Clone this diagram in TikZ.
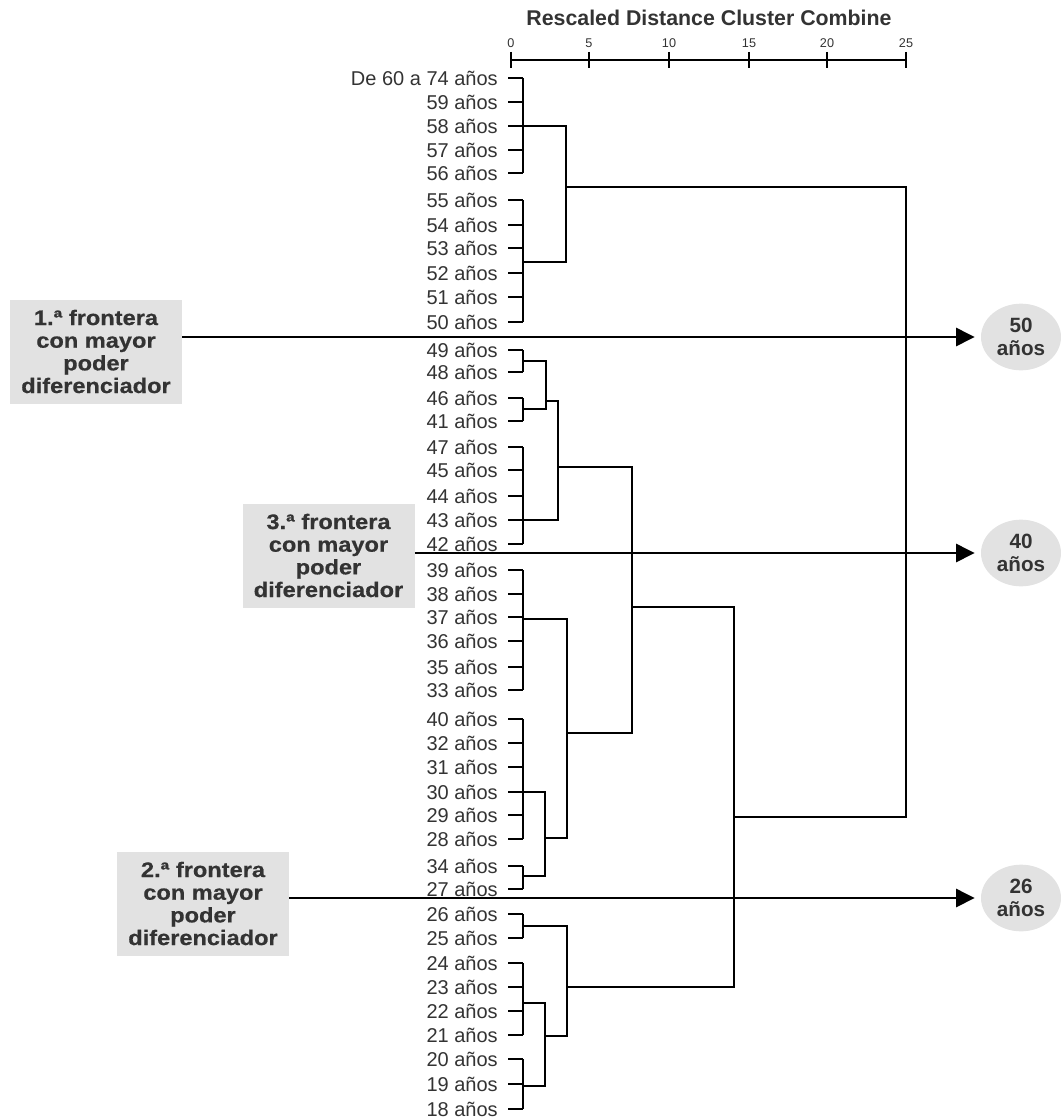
\documentclass[tikz,border=0pt]{standalone}
\usepackage{fontspec}
\setmainfont{Liberation Sans}
\newfontfamily\boxfont[FakeStretch=1.12,FakeBold=0.6]{Liberation Sans}
\usetikzlibrary{arrows.meta,shapes.geometric}
\definecolor{txtgray}{HTML}{333333}
\definecolor{boxgray}{HTML}{E2E2E2}

\begin{document}
\begin{tikzpicture}[x=0.75pt,y=-0.75pt,
		edad/.style={anchor=east,inner sep=0pt,text=txtgray,font=\fontsize{15}{15}\selectfont},
		rama/.style={line width=1.1pt},
		frontera/.style={fill=boxgray,text=txtgray,align=center,inner sep=0pt,minimum width=129pt,minimum height=78pt,font=\boxfont\bfseries\fontsize{15.8}{17}\selectfont},
		corte/.style={ellipse,fill=boxgray,text=txtgray,align=center,inner sep=0pt,minimum width=60pt,minimum height=50pt,font=\bfseries\fontsize{15.5}{17}\selectfont},
		flecha/.style={line width=2pt,shorten >=4.5pt,-{Triangle[length=14pt,width=13.5pt]}}]
			\useasboundingbox (0,0) rectangle (1060,1120);
			\node[font=\bfseries\fontsize{16}{16}\selectfont,text=txtgray] (titulo) at (709,18) {Rescaled Distance Cluster Combine};
			\draw[rama] (511,60) -- (906,60);
			\foreach \v/\x in {0/511,5/589,10/669,15/749,20/827,25/906}{
				\draw[rama] (\x,52) -- (\x,68);
				\node[font=\fontsize{9.5}{10}\selectfont,text=txtgray] (t\v) at (\x,43) {\v};
			}
			\foreach \t/\y [count=\i] in {De 60 a 74/78,59/102,58/126,57/150,56/173,55/200,54/225,53/248,52/273,51/297,50/322,49/350,48/372,46/398,41/421,47/447,45/470,44/496,43/520,42/544,39/570,38/594,37/617,36/641,35/667,33/690,40/719,32/743,31/767,30/792,29/815,28/839,34/866,27/889,26/914,25/938,24/963,23/987,22/1011,21/1035,20/1059,19/1084,18/1109}{
				\node[edad] (r\i) at (498,\y) {\t{} años};
				\draw[rama] (508,\y) -- (523,\y);
			}
			\foreach \a/\b in {78/173,200/322,350/372,398/421,447/544,570/690,719/839,866/889,914/938,963/1035,1059/1109}
				\draw[rama] (523,\a) -- (523,\b);
			\draw[rama] (523,126) -| (566,262) -- (523,262);
			\draw[rama] (566,187) -| (906,817) -- (734,817);
			\draw[rama] (523,361) -| (546,409) -- (523,409);
			\draw[rama] (546,401) -| (558,520) -- (523,520);
			\draw[rama] (558,467) -| (632,733) -- (567,733);
			\draw[rama] (523,619) -| (567,838) -- (545,838);
			\draw[rama] (523,792) -| (545,876) -- (523,876);
			\draw[rama] (632,607) -| (734,987) -- (567,987);
			\draw[rama] (523,926) -| (567,1036) -- (545,1036);
			\draw[rama] (523,1003) -| (545,1086) -- (523,1086);
			\node[frontera] (f1) at (96,351.5) {1.ª frontera\\con mayor\\poder\\diferenciador};
			\node[frontera] (f3) at (328.5,555.5) {3.ª frontera\\con mayor\\poder\\diferenciador};
			\node[frontera] (f2) at (203,903.5) {2.ª frontera\\con mayor\\poder\\diferenciador};
			\node[corte] (c50) at (1021,337) {50\\años};
			\node[corte] (c40) at (1021,553) {40\\años};
			\node[corte] (c26) at (1021,898) {26\\años};
			\draw[flecha] (f1.east |- c50) -- (c50.west);
			\draw[flecha] (f3.east |- c40) -- (c40.west);
			\draw[flecha] (f2.east |- c26) -- (c26.west);
		\end{tikzpicture}
\end{document}
